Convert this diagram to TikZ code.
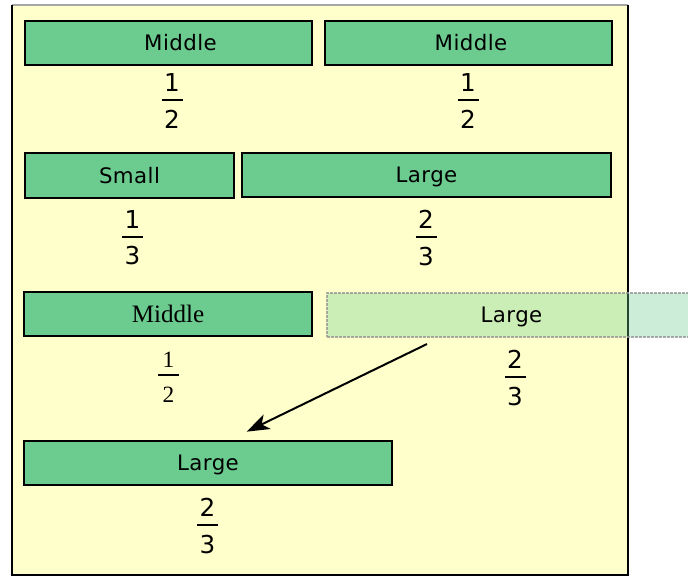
\documentclass[tikz,border=0pt]{standalone}
\usepackage{fontspec}
\usetikzlibrary{arrows.meta,calc}
\newfontfamily\labsans[LetterSpace=2]{DejaVu Sans}
\newfontfamily\numsans{DejaVu Sans}
\newfontfamily\labserif{Liberation Serif}
\definecolor{boxgreen}{RGB}{108,204,143}
\definecolor{paper}{RGB}{255,255,204}
\definecolor{ghostline}{RGB}{150,150,150}
\newlength\fH \newlength\fA \newlength\fT \newlength\fB \newlength\fW
\newcommand\fracsans{\numsans\fontsize{18.5}{22}\selectfont
  \setlength\fH{13.5pt}\setlength\fA{5.25pt}\setlength\fT{1.5pt}%
  \setlength\fB{6.75pt}\setlength\fW{15.75pt}}
\newcommand\fracserif{\labserif\fontsize{17.5}{20}\selectfont
  \setlength\fH{11.8pt}\setlength\fA{5pt}\setlength\fT{1.3pt}%
  \setlength\fB{8.4pt}\setlength\fW{15.75pt}}
\newcommand\myfrac[2]{\vbox{\offinterlineskip\halign{\hfil##\hfil\cr
  \vrule height\fH depth0pt width0pt #1\cr
  \noalign{\vskip\fA}
  \vrule height\fT depth0pt width\fW\cr
  \noalign{\vskip\fB}
  \vrule height\fH depth0pt width0pt #2\cr}}}
\tikzset{
  bar/.style={draw=black, line width=2pt, fill=boxgreen, inner sep=0pt,
    font=\labsans\fontsize{16}{19}\selectfont, text height=11.7pt, text depth=0pt},
  serifbar/.style={bar, font=\labserif\fontsize{18.8}{22}\selectfont, text height=12.4pt},
  ghostbar/.style={bar, draw=ghostline, densely dotted, line width=1.5pt,
    fill opacity=0.35, draw opacity=0.8, text opacity=1},
  bw/.style={minimum width=#1*0.75pt},
  bh/.style={minimum height=#1*0.75pt},
  fracsty/.style={inner sep=0pt, font=\fracsans},
  fracserifsty/.style={inner sep=0pt, font=\fracserif},
  moveline/.style={line width=1.5pt, -{Stealth[length=17pt,width=12pt,inset=4.5pt]}},
}
\begin{document}
\begin{tikzpicture}[x=0.75pt,y=-0.75pt]
\useasboundingbox (0,0) rectangle (688,576);
% frame
\node[fill=paper, inner sep=0pt, minimum width=616*0.75pt, minimum height=570*0.75pt] (frame) at (320,290) {};
\draw[black!35, line width=1.2pt] (frame.north west) -- (frame.north east);
\draw[black, line width=1.6pt] (frame.north west) -- (frame.south west) -- (frame.south east) -- (frame.north east);
% row 1
\node[bar, bw=287, bh=44] (m1) at (168.5,43) {\hspace*{18pt}Middle};
\node[bar, bw=287, bh=44] (m2) at (468.5,43) {\hspace*{3.75pt}Middle};
\node[fracsty] (f1) at (172,101) {\myfrac{1}{2}};
\node[fracsty] (f2) at (468,101) {\myfrac{1}{2}};
% row 2
\node[bar, bw=209, bh=45] (s) at (129.5,175.5) {Small};
\node[bar, bw=369, bh=44] (l2) at (426.5,175) {Large};
\node[fracsty] (f3) at (132.5,238) {\myfrac{1}{3}};
\node[fracsty] (f4) at (426,238) {\myfrac{2}{3}};
% row 3
\node[serifbar, bw=288, bh=44] (m3) at (168,314) {Middle};
\node[fracserifsty] (f5) at (168.5,377) {\myfrac{1}{2}};
\node[ghostbar, bw=369, bh=44] (g) at (511.5,315) {Large};
\node[fracsty] (f6) at (515,378) {\myfrac{2}{3}};
% row 4
\node[bar, bw=368, bh=44] (l4) at (208,463) {Large};
\node[fracsty] (f7) at (207.5,526) {\myfrac{2}{3}};
% move arrow
\coordinate (from) at ($(g.south west)+(101,6)$);
\coordinate (to) at ($(l4.north west)+(224,-8)$);
\draw[moveline] (from) -- (to);
\end{tikzpicture}
\end{document}
